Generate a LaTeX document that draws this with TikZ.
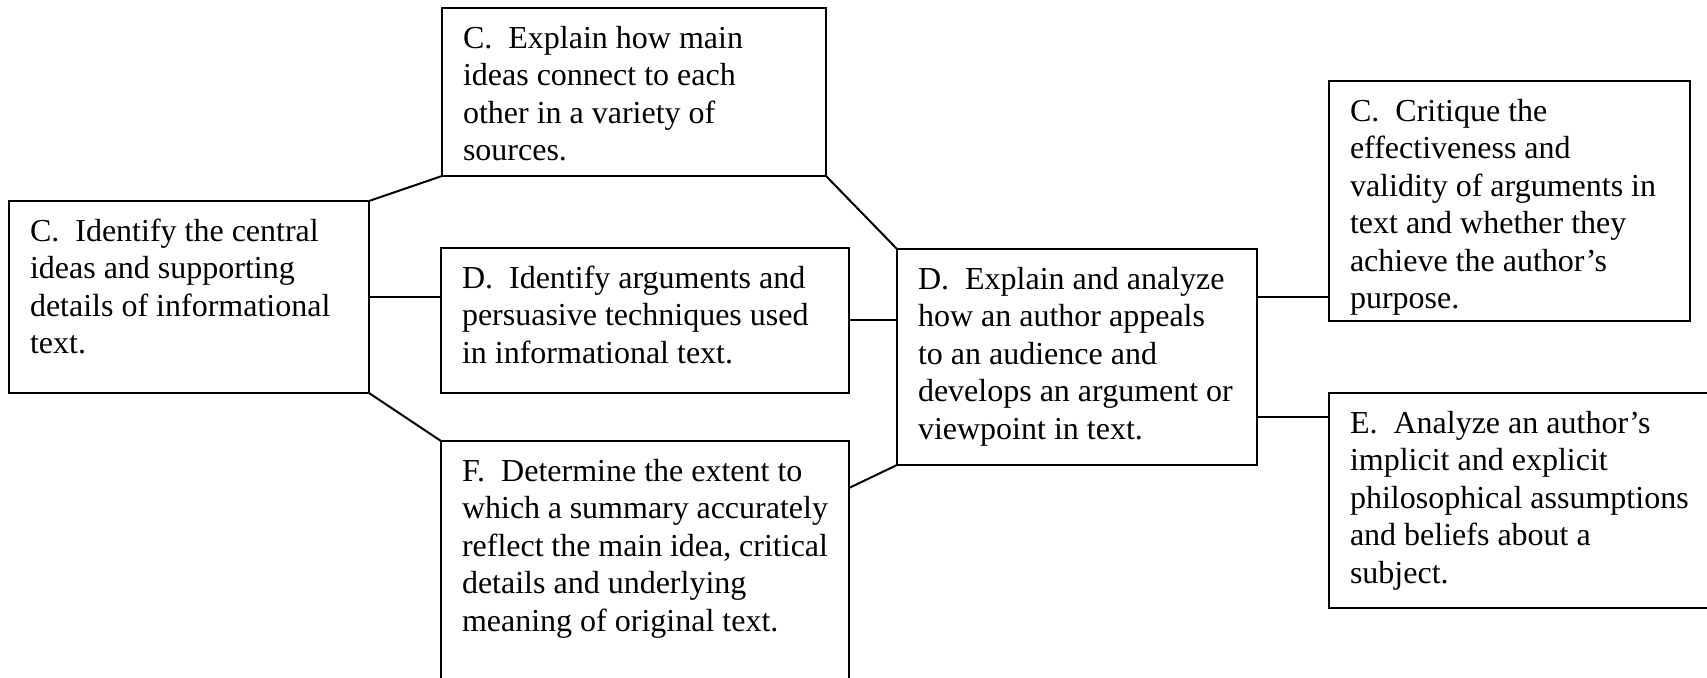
\documentclass[tikz,border=0pt]{standalone}
\usepackage{fontspec}
\setmainfont{Liberation Serif}
\usetikzlibrary{calc}
\newlength{\pxu}\setlength{\pxu}{0.5pt}
\newlength{\boxpadx}\setlength{\boxpadx}{10.5pt}
\newlength{\boxpady}\setlength{\boxpady}{7.2pt}
\tikzset{
  objbox/.style={draw=black,line width=1.2pt,rectangle,anchor=north west,
    inner xsep=\boxpadx,inner ysep=\boxpady,outer sep=0pt,
    font=\fontsize{16pt}{18.7pt}\selectfont},
  linkline/.style={draw=black,line width=1pt},
}
% name, left, top, width, height (in px), text
\newcommand{\obox}[6]{%
  \node[objbox] (#1) at (#2,#3)
    {\parbox[t][\dimexpr#5\pxu-2\boxpady\relax][t]{\dimexpr#4\pxu-2\boxpadx\relax}{\raggedright\strut#6}};}

\begin{document}
\begin{tikzpicture}[x=0.5pt,y=-0.5pt]
        \useasboundingbox (0,0) rectangle (1707,678);
        % boxes
        \obox{ideas}{9}{201}{360}{192}{C.~~Identify the central\\ideas and supporting\\details of informational\\text.}
        \obox{connect}{442}{8}{384}{168}{C.~~Explain how main\\ideas connect to each\\other in a variety of\\sources.}
        \obox{args}{441}{248}{408}{145}{D.~~Identify arguments and\\persuasive techniques used\\in informational text.}
        \obox{summary}{441}{441}{408}{262}{F.~~Determine the extent to\\which a summary accurately\\reflect the main idea, critical\\details and underlying\\meaning of original text.}
        \obox{appeal}{897}{249}{360}{216}{D.~~Explain and analyze\\how an author appeals\\to an audience and\\develops an argument or\\viewpoint in text.}
        \obox{critique}{1329}{81}{361}{240}{C.~~Critique the\\effectiveness and\\validity of arguments in\\text and whether they\\achieve the author’s\\purpose.}
        \obox{assume}{1329}{393}{395}{215}{E.~~Analyze an author’s\\implicit and explicit\\philosophical assumptions\\and beliefs about a\\subject.}
        % links
        \draw[linkline] (ideas.north east) -- (connect.south west);
        \draw[linkline] (ideas.east) -- (ideas.east -| args.west);
        \draw[linkline] (ideas.south east) -- (summary.north west);
        \draw[linkline] (connect.south east) -- (appeal.north west);
        \draw[linkline] (args.east) -- (args.east -| appeal.west);
        \draw[linkline] ([yshift=-23.5pt]summary.north east) -- (appeal.south west);
        \draw[linkline] ($(appeal.north east)!0.22!(appeal.south east)$) coordinate (upR) -- (upR -| critique.west);
        \draw[linkline] ($(appeal.north east)!0.78!(appeal.south east)$) coordinate (dnR) -- (dnR -| assume.west);
      \end{tikzpicture}
\end{document}
